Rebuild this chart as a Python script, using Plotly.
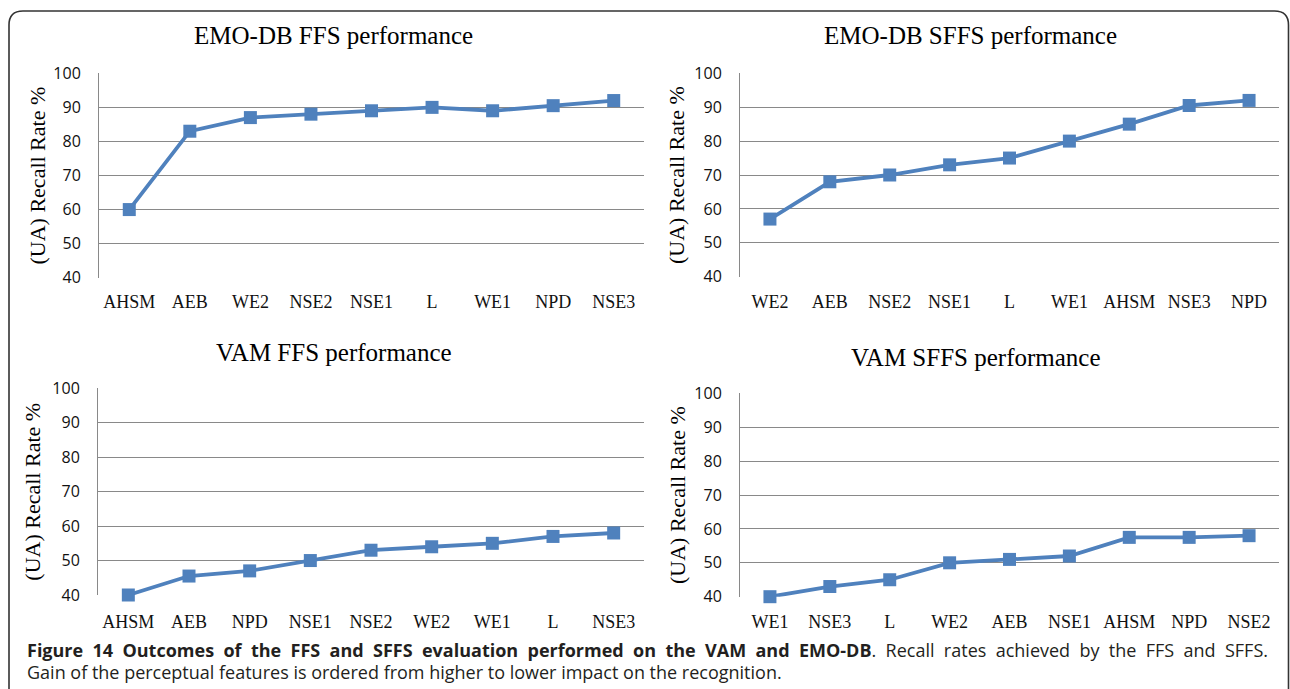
import plotly.graph_objects as go

W, H = 1290, 689

# ---- data ----
emo_ffs_cats = ["AHSM", "AEB", "WE2", "NSE2", "NSE1", "L", "WE1", "NPD", "NSE3"]
emo_ffs_vals = [60, 83, 87, 88, 89, 90, 89, 90.5, 92]

emo_sffs_cats = ["WE2", "AEB", "NSE2", "NSE1", "L", "WE1", "AHSM", "NSE3", "NPD"]
emo_sffs_vals = [57, 68, 70, 73, 75, 80, 85, 90.5, 92]

vam_ffs_cats = ["AHSM", "AEB", "NPD", "NSE1", "NSE2", "WE2", "WE1", "L", "NSE3"]
vam_ffs_vals = [40, 45.5, 47, 50, 53, 54, 55, 57, 58]

vam_sffs_cats = ["WE1", "NSE3", "L", "WE2", "AEB", "NSE1", "AHSM", "NPD", "NSE2"]
vam_sffs_vals = [40, 43, 45, 50, 51, 52, 57.5, 57.5, 58]

titles = ["EMO-DB FFS performance", "EMO-DB SFFS performance",
          "VAM FFS performance", "VAM SFFS performance"]
y_title = "(UA) Recall Rate %"
y_ticks = [40, 50, 60, 70, 80, 90, 100]

caption_bold = "Figure 14 Outcomes of the FFS and SFFS evaluation performed on the VAM and EMO-DB"
caption_rest = ". Recall rates achieved by the FFS and SFFS."
caption_line2 = "Gain of the perceptual features is ordered from higher to lower impact on the recognition."

panels = [
    (emo_ffs_cats, emo_ffs_vals),
    (emo_sffs_cats, emo_sffs_vals),
    (vam_ffs_cats, vam_ffs_vals),
    (vam_sffs_cats, vam_sffs_vals),
]

# ---- layout geometry (pixels) ----
boxes = [
    (99, 644, 73.3, 277.7),
    (740, 1279, 73.3, 276.7),
    (98, 644, 388.3, 595),
    (740, 1279, 393.3, 596.7),
]
title_pos = [(333, 36), (970, 36), (334, 352), (976, 357)]
ytitle_x = [37, 677, 33, 677]
xlab_standoff = [11, 12, 14, 12]

def px(x):
    return x / W

def py(y):
    return 1 - y / H

BLUE = "#4F81BD"
GRID = "#898989"

fig = go.Figure()
layout = dict(
    width=W, height=H,
    margin=dict(l=0, r=0, t=0, b=0),
    paper_bgcolor="white", plot_bgcolor="white",
    showlegend=False,
    annotations=[], shapes=[],
)

for i, ((cats, vals), (l, r, t, b)) in enumerate(zip(panels, boxes)):
    n = i + 1
    xa = "x" if n == 1 else f"x{n}"
    ya = "y" if n == 1 else f"y{n}"
    fig.add_trace(go.Scatter(
        x=cats, y=vals, xaxis=xa, yaxis=ya, mode="lines+markers",
        line=dict(color=BLUE, width=3.8),
        marker=dict(symbol="square", size=13, color=BLUE),
        cliponaxis=False,
    ))
    xkey = "xaxis" if n == 1 else f"xaxis{n}"
    ykey = "yaxis" if n == 1 else f"yaxis{n}"
    layout[xkey] = dict(
        domain=[px(l), px(r)], anchor=ya, type="category",
        categoryorder="array", categoryarray=cats,
        range=[-0.5, len(cats) - 0.5],
        showgrid=False, zeroline=False, showline=False,
        ticks="", ticklabelstandoff=xlab_standoff[i],
        tickfont=dict(family="Liberation Serif", size=18, color="#111"),
        automargin=False, fixedrange=True,
    )
    layout[ykey] = dict(
        domain=[py(b), py(t)], anchor=xa,
        range=[40, 100], tickvals=y_ticks,
        showgrid=True, gridcolor=GRID, gridwidth=1,
        zeroline=False, showline=True, linecolor=GRID, linewidth=1,
        ticks="", ticklabelstandoff=14,
        tickfont=dict(family="Open Sans", size=16, color="#111"),
        automargin=False, fixedrange=True,
    )
    tx, ty = title_pos[i]
    layout["annotations"].append(dict(
        text=titles[i], xref="paper", yref="paper", x=px(tx), y=py(ty),
        xanchor="center", yanchor="middle", showarrow=False,
        font=dict(family="Liberation Serif", size=25, color="#000"),
    ))
    layout["annotations"].append(dict(
        text=y_title, xref="paper", yref="paper",
        x=px(ytitle_x[i]), y=py((t + b) / 2), textangle=-90,
        xanchor="center", yanchor="middle", showarrow=False,
        font=dict(family="Liberation Serif", size=22, color="#000"),
    ))

# caption (first line justified: widen word gaps)
def widen(s):
    return s.replace(" ", " \u00a0")

layout["annotations"].append(dict(
    text="<b>" + widen(caption_bold) + "</b>" + widen(caption_rest),
    xref="paper", yref="paper", x=px(25), y=py(650), xanchor="left", yanchor="middle",
    showarrow=False, font=dict(family="Open Sans", size=18, color="#231F20"),
))
layout["annotations"].append(dict(
    text=caption_line2,
    xref="paper", yref="paper", x=px(25), y=py(672), xanchor="left", yanchor="middle",
    showarrow=False, font=dict(family="Open Sans", size=18, color="#231F20"),
))

# rounded border
x0, x1, y0, yb, rr = 9, 1288.5, 11, 700, 14
path = (f"M {px(x0)},{py(yb)} L {px(x0)},{py(y0 + rr)} "
        f"Q {px(x0)},{py(y0)} {px(x0 + rr)},{py(y0)} "
        f"L {px(x1 - rr)},{py(y0)} Q {px(x1)},{py(y0)} {px(x1)},{py(y0 + rr)} "
        f"L {px(x1)},{py(yb)}")
layout["shapes"].append(dict(type="path", path=path, xref="paper", yref="paper",
                             line=dict(color="#333", width=1.6), layer="above"))

fig.update_layout(**layout)
fig.write_html("out.html")
